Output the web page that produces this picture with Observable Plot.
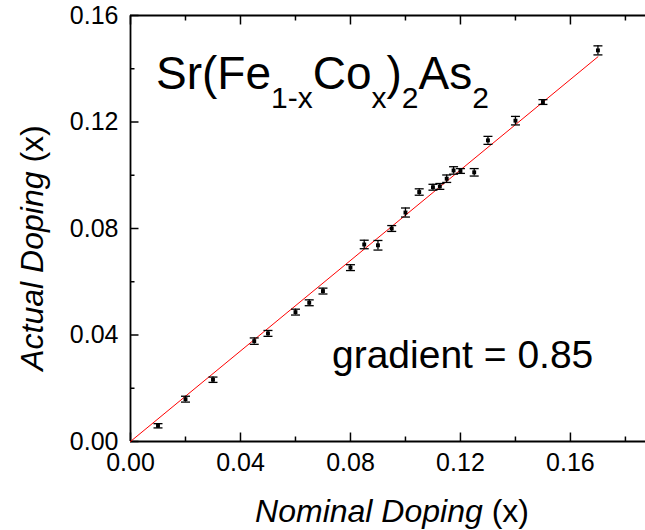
<!DOCTYPE html>
<html>
<head>
<meta charset="utf-8">
<script src="https://cdn.jsdelivr.net/npm/d3@7"></script>
<script src="https://cdn.jsdelivr.net/npm/@observablehq/plot@0.6"></script>
<style>
  html, body { margin: 0; padding: 0; background: #fff; }
  #chart svg { display: block; }
</style>
</head>
<body>
<div id="chart"></div>
<script>
// Nominal vs measured Co content of Sr(Fe1-xCox)2As2 crystals
const nominal = [0.01, 0.02, 0.03, 0.045, 0.05, 0.06, 0.065, 0.07, 0.08, 0.085, 0.09, 0.095,
                 0.10, 0.105, 0.11, 0.1125, 0.115, 0.1175, 0.12, 0.125, 0.13, 0.14, 0.15, 0.17];
const actual  = [0.0059, 0.0159, 0.0232, 0.0377, 0.0406, 0.0486, 0.0521, 0.0565, 0.0653, 0.0740, 0.0737, 0.0800,
                 0.0860, 0.0937, 0.0955, 0.0958, 0.0987, 0.1018, 0.1016, 0.1011, 0.1131, 0.1205, 0.1275, 0.1469];
const errors  = [0.0008, 0.0011, 0.0010, 0.0012, 0.0011, 0.0011, 0.0011, 0.0011, 0.0011, 0.0016, 0.0018, 0.0011,
                 0.0017, 0.0012, 0.0011, 0.0011, 0.0014, 0.0014, 0.0009, 0.0014, 0.0015, 0.0016, 0.0009, 0.0017];

// Linear fit through the origin
const gradient = 0.85;
const fitRange = [0, 0.17];

// Axis ticks
const xMajor = [0, 0.04, 0.08, 0.12, 0.16];
const xMinor = [0.02, 0.06, 0.10, 0.14, 0.18];
const yMajor = [0, 0.04, 0.08, 0.12, 0.16];
const yMinor = [0.02, 0.06, 0.10, 0.14];
const xDomain = [0, 0.1873];
const yDomain = [0, 0.16];

const points = nominal.map((x, i) => ({x, y: actual[i], e: errors[i]}));
const fit = fitRange.map(x => ({x, y: gradient * x}));

// horizontal bar used as the error-bar cap
const capSymbol = {
  draw(context, size) {
    const r = Math.sqrt(size / Math.PI);
    context.moveTo(-r, 0);
    context.lineTo(r, 0);
  }
};

const axisStroke = {stroke: "#000", strokeWidth: 1.8};
const fmt = d3.format(".2f");

const chart = Plot.plot({
  width: 645,
  height: 530,
  marginLeft: 130,
  marginRight: 0,
  marginTop: 15,
  marginBottom: 89,
  style: {fontFamily: "'Liberation Sans', Arial, sans-serif", color: "#000", background: "#fff"},
  x: {domain: xDomain},
  y: {domain: yDomain},
  marks: [
    // frame: left, bottom, top
    Plot.ruleX([xDomain[0]], axisStroke),
    Plot.ruleY([yDomain[0]], axisStroke),
    Plot.ruleY([yDomain[1]], axisStroke),

    // inward ticks
    Plot.axisX(xMajor, {anchor: "bottom", tickSize: -8.5, tickFormat: () => "", label: null, strokeWidth: 1.5}),
    Plot.axisX(xMinor, {anchor: "bottom", tickSize: -4.5, tickFormat: () => "", label: null, strokeWidth: 1.5}),
    Plot.axisX(xMajor, {anchor: "top", tickSize: -8.5, tickFormat: () => "", label: null, strokeWidth: 1.5}),
    Plot.axisX(xMinor, {anchor: "top", tickSize: -4.5, tickFormat: () => "", label: null, strokeWidth: 1.5}),
    Plot.axisY(yMajor, {anchor: "left", tickSize: -8.5, tickFormat: () => "", label: null, strokeWidth: 1.5}),
    Plot.axisY(yMinor, {anchor: "left", tickSize: -4.5, tickFormat: () => "", label: null, strokeWidth: 1.5}),

    // tick labels
    Plot.axisX(xMajor, {anchor: "bottom", tickSize: 0, tickPadding: 12, tickFormat: fmt, fontSize: 25, label: null}),
    Plot.axisY(yMajor, {anchor: "left", tickSize: 0, tickPadding: 12, tickFormat: fmt, fontSize: 25, label: null}),

    // fitted line
    Plot.line(fit, {x: "x", y: "y", stroke: "#ff0000", strokeWidth: 1}),

    // error bars
    Plot.ruleX(points, {x: "x", y1: d => d.y - d.e, y2: d => d.y + d.e, stroke: "#000", strokeWidth: 1.3}),
    Plot.dot(points, {x: "x", y: d => d.y + d.e, symbol: capSymbol, r: 4.5, fill: "none", stroke: "#000", strokeWidth: 1.3}),
    Plot.dot(points, {x: "x", y: d => d.y - d.e, symbol: capSymbol, r: 4.5, fill: "none", stroke: "#000", strokeWidth: 1.3}),

    // data points
    Plot.dot(points, {x: "x", y: "y", symbol: "square", r: 2.2, fill: "#000", stroke: "none"})
  ]
});

document.getElementById("chart").appendChild(chart);

const svg = d3.select(chart);
const font = "'Liberation Sans', Arial, sans-serif";

// compound formula with subscripts
const title = svg.append("text")
  .attr("x", 156).attr("y", 89).attr("text-anchor", "start")
  .attr("font-family", font).attr("font-size", 46).attr("fill", "#000");
const parts = [["Sr(Fe", false], ["1-x", true], ["Co", false], ["x", true],
               [")", false], ["2", true], ["As", false], ["2", true]];
let lowered = false;
for (const [txt, sub] of parts) {
  const span = title.append("tspan").text(txt);
  if (sub) {
    span.attr("font-size", 30);
    if (!lowered) span.attr("dy", 19);
    lowered = true;
  } else {
    if (lowered) span.attr("dy", -19);
    lowered = false;
  }
}

// fit annotation
svg.append("text")
  .attr("x", 332).attr("y", 368).attr("text-anchor", "start")
  .attr("font-family", font).attr("font-size", 39).attr("fill", "#000")
  .text(`gradient = ${gradient.toFixed(2)}`);

// x axis title
const xt = svg.append("text")
  .attr("x", 392).attr("y", 522).attr("text-anchor", "middle")
  .attr("font-family", font).attr("font-size", 32).attr("fill", "#000");
xt.append("tspan").attr("font-style", "italic").text("Nominal Doping");
xt.append("tspan").text(" (x)");

// y axis title
const yt = svg.append("text")
  .attr("transform", "translate(43,248) rotate(-90)").attr("text-anchor", "middle")
  .attr("font-family", font).attr("font-size", 32).attr("fill", "#000");
yt.append("tspan").attr("font-style", "italic").text("Actual Doping");
yt.append("tspan").text(" (x)");
</script>
</body>
</html>
